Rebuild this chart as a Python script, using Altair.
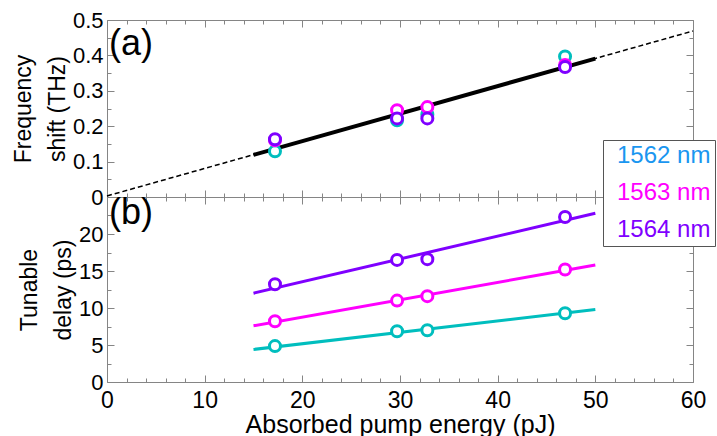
import altair as alt
import pandas as pd

# Absorbed pump energy of each measurement (pJ)
energy = [17.2, 29.7, 32.8, 46.9]
series = ["1562 nm", "1563 nm", "1564 nm"]

# (a) frequency shift (THz)
shift_1562 = [0.129, 0.217, 0.233, 0.397]
shift_1563 = [0.160, 0.245, 0.254, 0.373]
shift_1564 = [0.163, 0.222, 0.222, 0.367]

# (b) tunable delay (ps)
delay_1562 = [4.85, 6.85, 7.0, 9.3]
delay_1563 = [8.2, 11.0, 11.6, 15.2]
delay_1564 = [13.2, 16.5, 16.6, 22.3]

# linear fits of the delay, over the fitted energy range
fit_energy = [15, 50]
fit_delay_1562 = [4.4, 9.8]
fit_delay_1563 = [7.6, 15.8]
fit_delay_1564 = [12.0, 22.8]

# linear fit of the shift: solid over the fitted range, dashed extrapolation
shift_fit_energy = [15, 50]
shift_fit = [0.119, 0.391]
shift_ext_energy = [0, 60]
shift_ext = [0.003, 0.469]

marker_colors = ["#00bebe", "#ff00ff", "#7f00ff"]
label_colors = ["#1a96f0", "#ff00ff", "#7f00ff"]

x_major = [0, 10, 20, 30, 40, 50, 60]
x_minor = [v for v in range(0, 61, 2) if v % 10]
ya_major = [0, 0.1, 0.2, 0.3, 0.4, 0.5]
ya_minor = [0.05, 0.15, 0.25, 0.35, 0.45]
yb_labels = [0, 5, 10, 15, 20]
yb_major = [0, 5, 10, 15, 20, 25]
yb_minor = [2.5, 7.5, 12.5, 17.5, 22.5]

W, HA, HB = 586, 177, 185
FRAME = "#858585"


def long_table(xs, columns):
    rows = []
    for name, ys in zip(series, columns):
        for x, y in zip(xs, ys):
            rows.append({"energy": x, "value": y, "series": name})
    return pd.DataFrame(rows)


pts_a = long_table(energy, [shift_1562, shift_1563, shift_1564])
pts_b = long_table(energy, [delay_1562, delay_1563, delay_1564])
fit_b = long_table(fit_energy, [fit_delay_1562, fit_delay_1563, fit_delay_1564])
fit_a = pd.DataFrame({"energy": shift_fit_energy, "value": shift_fit})
ext_a = pd.DataFrame({"energy": shift_ext_energy, "value": shift_ext})

xscale = alt.Scale(domain=[0, 60], nice=False, zero=False)
yscale_a = alt.Scale(domain=[0, 0.5], nice=False)
yscale_b = alt.Scale(domain=[0, 25], nice=False)

label_expr = " : ".join(
    f"datum.label === '{s}' ? '{c}'" for s, c in zip(series[:-1], label_colors[:-1])
) + f" : '{label_colors[-1]}'"

color_legend = alt.Legend(
    title=None,
    orient="none",
    legendX=496,
    legendY=120,
    labelFontSize=24,
    labelFont="Liberation Sans",
    labelColor=alt.ExprRef(expr=label_expr),
    labelLimit=0,
    # pull the labels back over the (invisible) symbol column
    labelOffset=alt.ExprRef(expr="-14"),
    symbolSize=0,
    symbolStrokeWidth=0,
    symbolOpacity=0,
    padding=4,
    rowPadding=13,
    fillColor="white",
    strokeColor="#555555",
)
color_scale = alt.Scale(domain=series, range=marker_colors)
color_enc = alt.Color("series:N", scale=color_scale, legend=color_legend)


def tick_axis(orient, offset, values, size):
    return alt.Axis(
        orient=orient, offset=offset, values=values, tickSize=size,
        labels=False, domain=False, grid=False, title=None,
        ticks=True, tickColor=FRAME, tickWidth=1,
    )


def frame_ticks(data, yscale, h, y_major, y_minor):
    layers = []
    # top and right edges
    for xv, yv, size in [(x_major, y_major, 7), (x_minor, y_minor, 4)]:
        layers.append(
            alt.Chart(data).mark_point(opacity=0).encode(
                x=alt.X("energy:Q", scale=xscale, axis=tick_axis("bottom", -h, xv, size)),
                y=alt.Y("value:Q", scale=yscale, axis=tick_axis("left", -W, yv, size)),
            )
        )
    # bottom and left edges
    for xv, yv, size in [(x_major, y_major, 7), (x_minor, y_minor, 4)]:
        layers.append(
            alt.Chart(data).mark_point(opacity=0).encode(
                x=alt.X("energy:Q", scale=xscale, axis=tick_axis("top", -h, xv, size)),
                y=alt.Y("value:Q", scale=yscale, axis=tick_axis("right", -W, yv, size)),
            )
        )
    return layers


point_mark = dict(shape="circle", filled=False, fill="white", fillOpacity=1,
                  size=121, strokeWidth=3, opacity=1)

# ---- panel (a): frequency shift
ext_line = alt.Chart(ext_a).mark_line(color="black", strokeWidth=1.5, strokeDash=[5, 3]).encode(
    x=alt.X("energy:Q", scale=xscale, axis=None),
    y=alt.Y("value:Q", scale=yscale_a, axis=None),
)
fit_line = alt.Chart(fit_a).mark_line(color="black", strokeWidth=4).encode(
    x=alt.X("energy:Q", scale=xscale, axis=None),
    y=alt.Y("value:Q", scale=yscale_a, axis=None),
)
points_a = alt.Chart(pts_a).mark_point(**point_mark).encode(
    x=alt.X("energy:Q", scale=xscale, axis=None),
    y=alt.Y(
        "value:Q", scale=yscale_a,
        axis=alt.Axis(orient="left", values=ya_major, format="~g", ticks=False,
                      domain=False, grid=False, labelPadding=4,
                      title=["Frequency", "shift (THz)"], titlePadding=3),
    ),
    color=color_enc,
)
tag_a = alt.Chart(pd.DataFrame({"energy": [0.2], "value": [0.401], "t": ["(a)"]})).mark_text(
    fontSize=36, align="left", baseline="alphabetic", color="black", font="Liberation Sans"
).encode(
    x=alt.X("energy:Q", scale=xscale, axis=None),
    y=alt.Y("value:Q", scale=yscale_a, axis=None),
    text="t:N",
)
panel_a = alt.layer(
    *frame_ticks(pts_a, yscale_a, HA, ya_major, ya_minor),
    ext_line, fit_line, points_a, tag_a,
).resolve_axis(x="independent", y="independent").properties(width=W, height=HA)

# ---- panel (b): tunable delay
lines_b = alt.Chart(fit_b).mark_line(strokeWidth=3).encode(
    x=alt.X("energy:Q", scale=xscale, axis=None),
    y=alt.Y("value:Q", scale=yscale_b, axis=None),
    color=color_enc,
    detail="series:N",
)
points_b = alt.Chart(pts_b).mark_point(**point_mark).encode(
    x=alt.X(
        "energy:Q", scale=xscale,
        axis=alt.Axis(orient="bottom", values=x_major, ticks=False, domain=False,
                      grid=False, labelPadding=7, labelFontSize=23,
                      title="Absorbed pump energy (pJ)", titleFontSize=25, titlePadding=0),
    ),
    y=alt.Y(
        "value:Q", scale=yscale_b,
        axis=alt.Axis(orient="left", values=yb_labels, ticks=False, domain=False,
                      grid=False, labelPadding=4,
                      title=["Tunable", "delay (ps)"], titlePadding=3),
    ),
    color=color_enc,
)
tag_b = alt.Chart(pd.DataFrame({"energy": [0.2], "value": [21.4], "t": ["(b)"]})).mark_text(
    fontSize=36, align="left", baseline="alphabetic", color="black", font="Liberation Sans"
).encode(
    x=alt.X("energy:Q", scale=xscale, axis=None),
    y=alt.Y("value:Q", scale=yscale_b, axis=None),
    text="t:N",
)
panel_b = alt.layer(
    *frame_ticks(pts_b, yscale_b, HB, yb_major, yb_minor),
    lines_b, points_b, tag_b,
).resolve_axis(x="independent", y="independent").properties(width=W, height=HB)

chart = alt.vconcat(panel_a, panel_b, spacing=0, bounds="flush").properties(
    padding={"left": 11, "top": 8, "right": 0, "bottom": 0},
    background="white",
).configure_view(
    stroke=FRAME, strokeWidth=1
).configure_axis(
    labelFont="Liberation Sans", titleFont="Liberation Sans",
    labelFontSize=22, titleFontSize=23, titleFontWeight="normal",
    labelColor="black", titleColor="black", titleLineHeight=34,
    labelFlush=False, labelOverlap=False,
)

chart.save("out.html", embed_options={"renderer": "svg", "actions": False})
